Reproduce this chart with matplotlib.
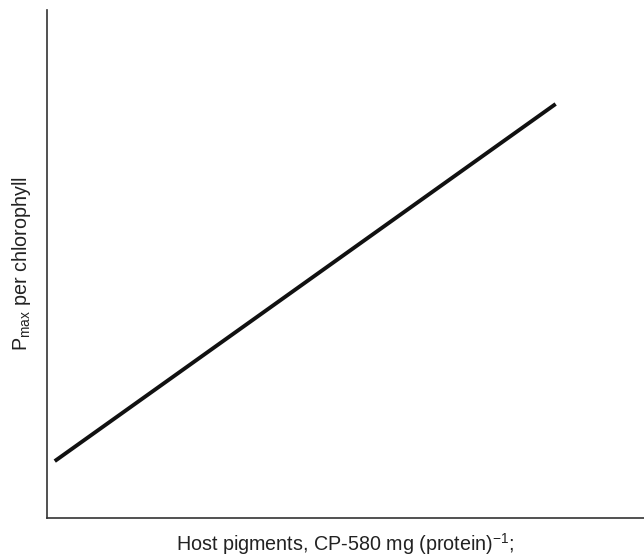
import matplotlib
matplotlib.use("Agg")
import matplotlib.pyplot as plt

plt.rcParams['font.family'] = ['Liberation Sans', 'DejaVu Sans']
plt.rcParams['mathtext.fontset'] = 'custom'
plt.rcParams['mathtext.rm'] = 'Liberation Sans'

# schematic relation, arbitrary units
host_pigments = [0.13, 8.52]
pmax_per_chl = [1.12, 8.15]

fig = plt.figure(figsize=(6.44, 5.59), dpi=100)
ax = fig.add_axes([47 / 644, 41 / 559, 597 / 644, 508 / 559])

ax.plot(host_pigments, pmax_per_chl, color='#111111', linewidth=2.8, solid_capstyle='butt')

ax.set_xlim(0, 10)
ax.set_ylim(0, 10)
ax.set_xticks([])
ax.set_yticks([])
ax.spines['top'].set_visible(False)
ax.spines['right'].set_visible(False)
for s in ('left', 'bottom'):
    ax.spines[s].set_linewidth(1.2)
    ax.spines[s].set_color('#333333')

ax.set_xlabel('Host pigments, CP-580 mg (protein)$^{\\mathregular{-1}}$;', fontsize=14.2,
              labelpad=9.5, color='#222222')
ax.set_ylabel('P$_{\\mathregular{max}}$ per chlorophyll', fontsize=14.2,
              labelpad=10, color='#222222')

fig.savefig('out.png', dpi=100)
